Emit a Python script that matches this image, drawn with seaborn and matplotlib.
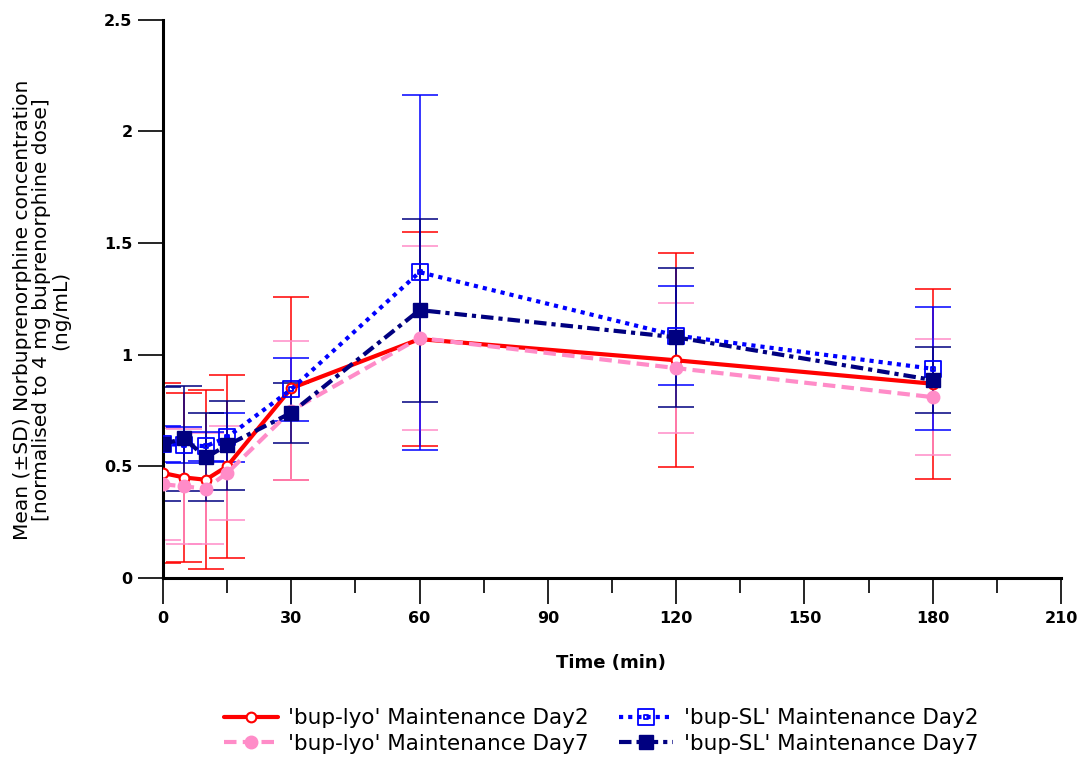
import numpy as np
import pandas as pd
import matplotlib
matplotlib.use('Agg')
import matplotlib.pyplot as plt
from matplotlib.path import Path
import seaborn as sns

# time points (min)
time = [0, 5, 10, 15, 30, 60, 120, 180]

# mean and SD per treatment
lyo_d2_mean = [0.47, 0.45, 0.44, 0.50, 0.85, 1.07, 0.975, 0.87]
lyo_d2_sd = [0.405, 0.38, 0.40, 0.41, 0.41, 0.48, 0.48, 0.425]
lyo_d7_mean = [0.42, 0.41, 0.40, 0.47, 0.75, 1.075, 0.94, 0.81]
lyo_d7_sd = [0.25, 0.256, 0.25, 0.21, 0.31, 0.41, 0.29, 0.26]
sl_d2_mean = [0.60, 0.596, 0.59, 0.63, 0.845, 1.37, 1.086, 0.937]
sl_d2_sd = [0.08, 0.082, 0.065, 0.11, 0.14, 0.795, 0.22, 0.275]
sl_d7_mean = [0.60, 0.625, 0.54, 0.594, 0.74, 1.20, 1.078, 0.887]
sl_d7_sd = [0.255, 0.237, 0.197, 0.20, 0.135, 0.41, 0.31, 0.147]

labels = ["'bup-lyo' Maintenance Day2", "'bup-lyo' Maintenance Day7",
          "'bup-SL' Maintenance Day2", "'bup-SL' Maintenance Day7"]

frames = []
for lab, m, s in zip(labels, [lyo_d2_mean, lyo_d7_mean, sl_d2_mean, sl_d7_mean],
                     [lyo_d2_sd, lyo_d7_sd, sl_d2_sd, sl_d7_sd]):
    frames.append(pd.DataFrame({'time': time, 'mean': m, 'sd': s, 'series': lab}))
df = pd.concat(frames, ignore_index=True)

# open square with a dot inside
outer = Path.unit_rectangle().vertices * 2 - 1
inner = outer * 0.22
boxdot = Path.make_compound_path(Path(outer[:5], closed=True), Path(inner[:5], closed=True))

styles = {
    labels[0]: dict(color='#ff0000', ls='-', marker='o', ms=7, mfc='white', mec='#ff0000', mew=1.5),
    labels[1]: dict(color='#ff8cc8', ls=(0, (3, 1.5)), marker='o', ms=9, mfc='#ff8cc8', mec='#ff8cc8', mew=1),
    labels[2]: dict(color='#0000ff', ls=(0, (1, 1.2)), marker=boxdot, ms=11, mfc='none', mec='#0000ff', mew=1.3),
    labels[3]: dict(color='#000080', ls=(0, (3, 1.2, 1, 1.2)), marker='s', ms=10, mfc='#000080', mec='#000080', mew=1),
}

sns.set_style('white')
plt.rcParams['font.family'] = ['DejaVu Sans']
plt.rcParams['text.color'] = 'black'
plt.rcParams['xtick.color'] = 'black'
plt.rcParams['ytick.color'] = 'black'

fig = plt.figure(figsize=(10.82, 7.64), dpi=100)
ax = fig.add_axes([0.1506, 0.2435, 0.83, 0.7305])

for lab in labels:
    d = df[df['series'] == lab]
    st = styles[lab]
    ax.errorbar(d['time'], d['mean'], yerr=d['sd'], fmt='none', ecolor=st['color'],
                elinewidth=1.1, capsize=13, capthick=1.1, zorder=2)
for lab in labels:
    d = df[df['series'] == lab]
    st = styles[lab]
    sns.lineplot(data=d, x='time', y='mean', ax=ax, color=st['color'], linestyle=st['ls'],
                 linewidth=3, marker=st['marker'], markersize=st['ms'],
                 markerfacecolor=st['mfc'], markeredgecolor=st['mec'], markeredgewidth=st['mew'],
                 errorbar=None, label=lab, legend=False, zorder=3)

ax.set_xlim(0, 210)
ax.set_ylim(0, 2.5)
ax.set_xticks(np.arange(0, 211, 30))
ax.set_xticks(np.arange(15, 211, 30), minor=True)
ax.set_yticks([0, 0.5, 1, 1.5, 2, 2.5])
ax.set_yticklabels(['0', '0.5', '1', '1.5', '2', '2.5'], fontweight='bold', fontsize=11.5)
ax.set_xticklabels([str(v) for v in range(0, 211, 30)], fontsize=11.5, fontweight='bold')
ax.tick_params(axis='y', which='major', direction='out', length=18, width=1.2, left=True, pad=4)
ax.tick_params(axis='x', which='major', direction='out', length=19, width=1.2, bottom=True, pad=5)
ax.tick_params(axis='x', which='minor', direction='out', length=11, width=1.2, bottom=True)

for side in ['top', 'right']:
    ax.spines[side].set_visible(False)
for side in ['left', 'bottom']:
    ax.spines[side].set_linewidth(2.2)
    ax.spines[side].set_color('black')

ax.set_xlabel('')
ax.set_ylabel('')
fig.text(611 / 1082, 1 - 663 / 764, 'Time (min)', ha='center', va='center', fontsize=13,
         fontweight='bold')
fig.text(42 / 1082, 1 - 310 / 764,
         'Mean (\u00b1SD) Norbuprenorphine concentration\n[normalised to 4 mg buprenorphine dose]\n(ng/mL)',
         rotation=90, ha='center', va='center', multialignment='center', fontsize=14.5, linespacing=1.0)

handles, hl = ax.get_legend_handles_labels()
fig.legend(handles, hl, loc='center', bbox_to_anchor=(601 / 1082, 1 - 731 / 764), ncol=2,
           frameon=False, handlelength=2.5, columnspacing=1.4, handletextpad=0.5,
           labelspacing=0.25, prop={'size': 15.5})

fig.savefig('out.png', dpi=100)
